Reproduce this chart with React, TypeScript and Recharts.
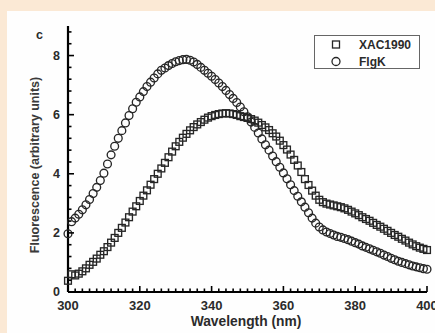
import { Scatter, ScatterChart, XAxis, YAxis } from "recharts"

// emission spectra, 1 nm steps starting at 300 nm
const startWavelength = 300
const xac1990 = [
  0.38, 0.6, 0.56, 0.62, 0.7, 0.8, 0.92, 1.02, 1.13, 1.26,
  1.38, 1.52, 1.67, 1.83, 2.0, 2.17, 2.35, 2.53, 2.72, 2.9,
  3.08, 3.26, 3.44, 3.63, 3.82, 4.0, 4.18, 4.37, 4.56, 4.75,
  4.93, 5.08, 5.22, 5.35, 5.47, 5.58, 5.67, 5.75, 5.83, 5.9,
  5.95, 5.99, 6.02, 6.04, 6.05, 6.04, 6.02, 5.99, 5.95, 5.92,
  5.89, 5.85, 5.8, 5.73, 5.65, 5.57, 5.48, 5.37, 5.26, 5.12,
  4.97, 4.82, 4.65, 4.47, 4.28, 4.06, 3.82, 3.62, 3.43, 3.26,
  3.12, 3.04, 2.99, 2.96, 2.93, 2.9, 2.87, 2.83, 2.78, 2.72,
  2.66, 2.6, 2.53, 2.47, 2.41, 2.34, 2.27, 2.21, 2.14, 2.07,
  2.0, 1.93, 1.87, 1.8, 1.74, 1.67, 1.61, 1.55, 1.5, 1.46,
  1.42,
]
const flgk = [
  1.97, 2.38, 2.5, 2.63, 2.78, 2.95, 3.13, 3.33, 3.54, 3.77,
  4.02, 4.33, 4.64, 4.93, 5.2, 5.46, 5.72, 5.97, 6.2, 6.42,
  6.6, 6.78, 6.95, 7.1, 7.24, 7.38, 7.5, 7.58, 7.66, 7.73,
  7.79, 7.83, 7.86, 7.87, 7.84, 7.78, 7.7, 7.6, 7.5, 7.4,
  7.3, 7.19, 7.07, 6.95, 6.82, 6.68, 6.55, 6.41, 6.26, 6.1,
  5.93, 5.75, 5.57, 5.38, 5.18, 4.98, 4.8, 4.6, 4.41, 4.22,
  4.03, 3.83, 3.63, 3.43, 3.24, 3.05, 2.87, 2.68, 2.5, 2.33,
  2.2, 2.1, 2.03, 1.98, 1.93, 1.88, 1.85, 1.81, 1.77, 1.72,
  1.67, 1.62, 1.56, 1.51, 1.46, 1.41, 1.36, 1.31, 1.25, 1.2,
  1.14, 1.09, 1.04, 1.0, 0.96, 0.92, 0.88, 0.85, 0.82, 0.79,
  0.77,
]
const xMajorTicks = [300, 320, 340, 360, 380, 400]
const yMajorTicks = [0, 2, 4, 6, 8]

const font = "Arial, 'Liberation Sans', sans-serif"
const ink = "#2b2b2b"
const markerStroke = "#262626"

// minor tick positions (axis decoration only)
const xTicks = Array.from({ length: 51 }, (_, i) => 300 + i * 2)
const yTicks = Array.from({ length: 23 }, (_, i) => Math.round(i * 0.4 * 10) / 10)

const toPoints = (values: number[]) => values.map((v, i) => ({ wl: startWavelength + i, value: v }))
const xacData = toPoints(xac1990)
const flgkData = toPoints(flgk)

const TICK_MARGIN = 8

const isMajor = (v: number, majors: number[]) => majors.some((m) => Math.abs(m - v) < 1e-6)

const YTick = (props: any) => {
  const { x, y, payload } = props
  const edge = x + TICK_MARGIN
  const major = isMajor(payload.value, yMajorTicks)
  return (
    <g>
      <line x1={edge} x2={edge + (major ? 6 : 3.5)} y1={y} y2={y} stroke="#000" strokeWidth={1.6} />
      {major && (
        <text x={x} y={y} textAnchor="end" dominantBaseline="central" fontSize={12.5} fontWeight="bold" fill={ink} fontFamily={font}>
          {payload.value}
        </text>
      )}
    </g>
  )
}

const XTick = (props: any) => {
  const { x, y, payload } = props
  const edge = y - TICK_MARGIN
  const major = isMajor(payload.value, xMajorTicks)
  return (
    <g>
      <line x1={x} x2={x} y1={edge} y2={edge - (major ? 6 : 3.5)} stroke="#000" strokeWidth={1.6} />
      {major && (
        <text x={x} y={y + 5.5} textAnchor="middle" dominantBaseline="central" fontSize={13} fontWeight="bold" fill={ink} fontFamily={font}>
          {payload.value}
        </text>
      )}
    </g>
  )
}

const SquareMark = (props: any) => (
  <rect x={props.cx - 3.4} y={props.cy - 3.4} width={6.8} height={6.8} fill="none" stroke={markerStroke} strokeWidth={1.35} />
)
const CircleMark = (props: any) => (
  <circle cx={props.cx} cy={props.cy} r={3.9} fill="none" stroke={markerStroke} strokeWidth={1.35} />
)

export default function App() {
  return (
    <div style={{ position: "absolute", left: 0, top: 0, width: 435, height: 333, background: "#fbe9d5", overflow: "hidden" }}>
      <div style={{ position: "absolute", left: 7, top: 11, width: 428, height: 322, background: "#fefefe" }} />
      <div style={{ position: "absolute", left: 0, top: 0 }}>
        <ScatterChart width={435} height={333} margin={{ top: 26, right: 8, bottom: 11, left: 0 }}>
          <XAxis
            dataKey="wl"
            type="number"
            domain={[300, 400]}
            ticks={xTicks}
            interval={0}
            tickSize={0}
            tickMargin={TICK_MARGIN}
            tickLine={false}
            tick={<XTick />}
            height={30}
            axisLine={{ stroke: "#000", strokeWidth: 2.2 }}
          />
          <XAxis xAxisId="top" orientation="top" type="number" domain={[300, 400]} height={0} tick={false} tickLine={false} axisLine={{ stroke: "#000", strokeWidth: 2.6 }} />
          <YAxis
            dataKey="value"
            type="number"
            domain={[0, 9]}
            ticks={yTicks}
            interval={0}
            tickSize={0}
            tickMargin={TICK_MARGIN}
            tickLine={false}
            tick={<YTick />}
            width={68}
            axisLine={{ stroke: "#000", strokeWidth: 2.2 }}
          />
          <YAxis yAxisId="right" orientation="right" type="number" domain={[0, 9]} width={0} tick={false} tickLine={false} axisLine={{ stroke: "#000", strokeWidth: 2.2 }} />
          <Scatter name="XAC1990" data={xacData} shape={<SquareMark />} isAnimationActive={false} />
          <Scatter name="FlgK" data={flgkData} shape={<CircleMark />} isAnimationActive={false} />
        </ScatterChart>
      </div>
      <svg width={435} height={333} style={{ position: "absolute", left: 0, top: 0, pointerEvents: "none" }}>
        <text x={39.5} y={35} textAnchor="middle" dominantBaseline="central" fontSize={12.5} fontWeight="bold" fill={ink} fontFamily={font}>c</text>
        <text
          x={35}
          y={165}
          transform="rotate(-90 35 165)"
          textAnchor="middle"
          dominantBaseline="central"
          fontSize={12.5}
          fontWeight="bold"
          fill="#3a3a3a"
          fontFamily={font}
        >
          Fluorescence (arbitrary units)
        </text>
        <text x={246} y={321} textAnchor="middle" dominantBaseline="central" fontSize={13.8} fontWeight="bold" fill={ink} fontFamily={font}>
          Wavelength (nm)
        </text>
      </svg>
      <div
        style={{
          position: "absolute",
          left: 314,
          top: 35,
          width: 106,
          height: 34,
          border: "1px solid #666",
          background: "#fff",
          boxSizing: "border-box",
          fontFamily: font,
          fontSize: 12,
          fontWeight: "bold",
          color: ink,
        }}
      >
        {[
          { label: "XAC1990", square: true },
          { label: "FlgK", square: false },
        ].map((item, i) => (
          <div key={item.label} style={{ position: "absolute", left: 0, top: 1 + i * 17, height: 15, display: "flex", alignItems: "center" }}>
            <svg width={40} height={15}>
              {item.square ? (
                <rect x={17.5} y={4} width={7} height={7} fill="none" stroke={markerStroke} strokeWidth={1.3} />
              ) : (
                <circle cx={21} cy={7.5} r={4} fill="none" stroke={markerStroke} strokeWidth={1.3} />
              )}
            </svg>
            <span style={{ marginLeft: 4 }}>{item.label}</span>
          </div>
        ))}
      </div>
    </div>
  )
}
